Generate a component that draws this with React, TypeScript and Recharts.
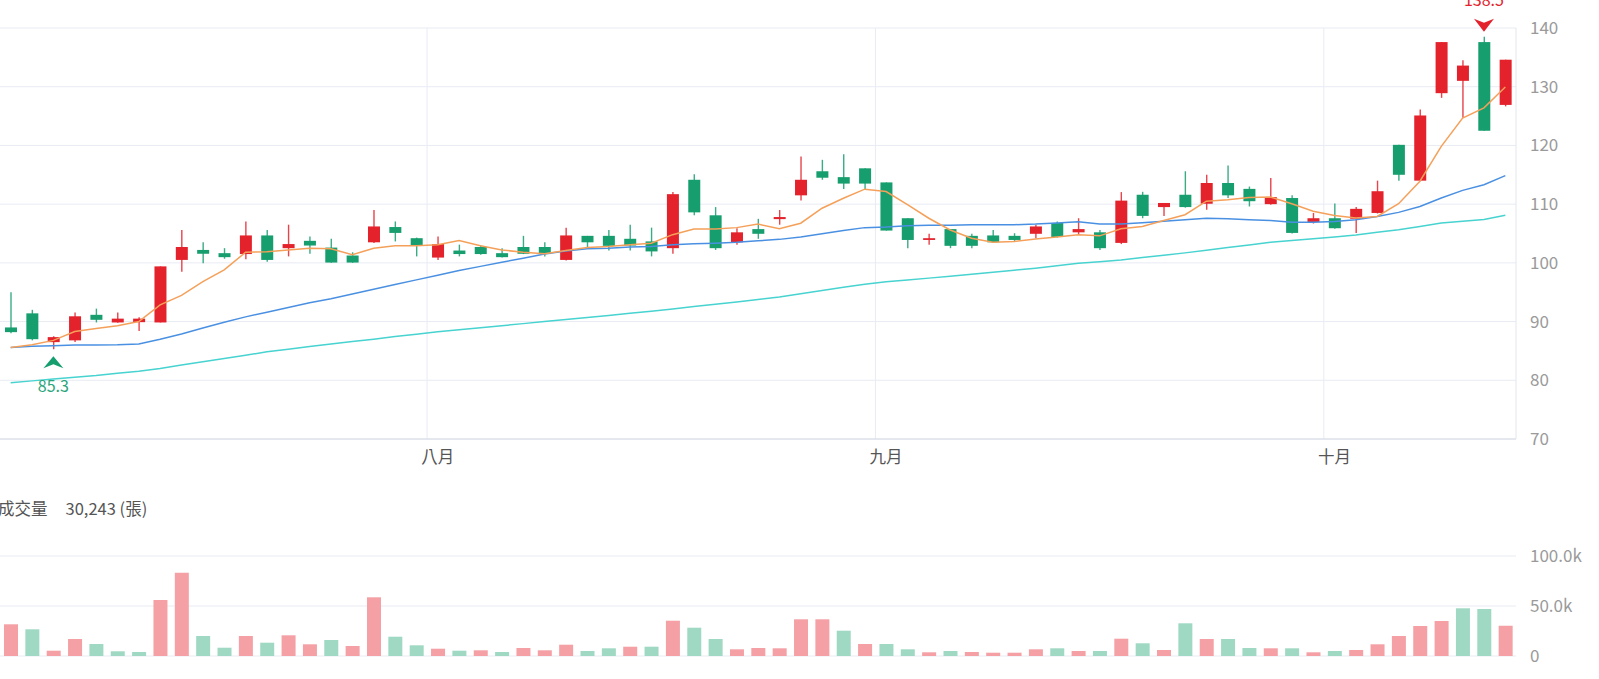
import { ComposedChart, Bar, Line, XAxis, YAxis, CartesianGrid, ReferenceLine, ReferenceDot, Cell } from 'recharts'

const dates = [
  '07/02', '07/03', '07/04', '07/05', '07/08', '07/09', '07/10', '07/11', '07/12', '07/15',
  '07/16', '07/17', '07/18', '07/19', '07/22', '07/23', '07/26', '07/29', '07/30', '07/31',
  '08/01', '08/02', '08/05', '08/06', '08/07', '08/08', '08/09', '08/12', '08/13', '08/14',
  '08/15', '08/16', '08/19', '08/20', '08/21', '08/22', '08/23', '08/26', '08/27', '08/28',
  '08/29', '09/02', '09/03', '09/04', '09/05', '09/06', '09/09', '09/10', '09/11', '09/12',
  '09/13', '09/16', '09/17', '09/18', '09/19', '09/20', '09/23', '09/24', '09/25', '09/26',
  '09/27', '09/30', '10/01', '10/02', '10/03', '10/04', '10/07', '10/08', '10/09', '10/11',
  '10/14',
]

const opens = [
  89.0, 91.4, 86.5, 86.8, 91.15, 89.85, 89.9, 89.85, 100.5, 102.2,
  101.65, 101.5, 104.67, 102.5, 103.75, 102.6, 101.25, 103.5, 106.1, 104.2,
  100.9, 102.1, 102.7, 101.65, 102.7, 102.7, 100.5, 104.6, 104.6, 104.1,
  103.65, 102.5, 114.15, 108.1, 103.5, 105.75, 107.45, 111.5, 115.6, 114.6,
  116.1, 113.7, 107.6, 103.9, 105.75, 104.6, 104.67, 104.6, 104.95, 106.8,
  105.2, 105.2, 103.4, 111.6, 109.5, 111.6, 110.07, 113.6, 112.6, 110.0,
  111.04, 106.95, 107.6, 107.5, 108.5, 120.1, 114.0, 128.9, 131.0, 137.6,
  126.9,
]
const highs = [
  95.0, 92.0, 87.5, 91.55, 92.2, 91.55, 90.75, 99.4, 105.6, 103.5,
  102.5, 107.05, 105.6, 106.5, 104.5, 104.1, 101.8, 109.0, 107.05, 104.3,
  104.5, 103.1, 103.0, 102.5, 104.6, 103.5, 106.0, 104.6, 105.6, 106.5,
  106.0, 112.05, 115.1, 109.5, 105.9, 107.5, 109.0, 118.1, 117.55, 118.5,
  116.1, 113.7, 107.6, 104.95, 105.75, 104.95, 105.6, 105.05, 106.5, 107.05,
  107.6, 105.6, 112.05, 112.1, 110.2, 115.6, 115.0, 116.6, 113.0, 114.45,
  111.5, 108.5, 110.1, 109.5, 114.0, 120.1, 126.1, 137.6, 134.5, 138.5,
  134.6,
]
const lows = [
  88.0, 86.8, 85.3, 86.5, 89.85, 89.8, 88.4, 89.85, 98.5, 99.95,
  100.7, 100.6, 100.2, 101.1, 101.55, 100.0, 100.0, 103.4, 103.65, 101.1,
  100.5, 101.1, 101.4, 100.9, 101.5, 101.1, 100.4, 102.5, 102.1, 102.1,
  101.1, 101.55, 108.1, 102.2, 103.1, 104.1, 106.5, 110.6, 114.15, 112.6,
  112.6, 105.5, 102.5, 103.1, 102.5, 102.5, 103.4, 103.65, 104.2, 104.3,
  104.8, 102.2, 103.2, 107.6, 108.0, 109.4, 109.05, 111.04, 109.6, 109.9,
  105.0, 106.7, 105.8, 105.1, 108.4, 114.0, 113.9, 128.1, 124.7, 122.5,
  126.65,
]
const closes = [
  88.2, 87.0, 87.35, 90.9, 90.3, 90.5, 90.5, 99.4, 102.7, 101.55,
  100.97, 104.67, 100.5, 103.2, 102.95, 100.05, 100.05, 106.2, 105.1, 102.95,
  103.2, 101.5, 101.5, 100.97, 101.55, 101.5, 104.67, 103.5, 102.9, 102.95,
  101.95, 111.7, 108.6, 102.5, 105.2, 104.95, 107.8, 114.15, 114.5, 113.5,
  113.5, 105.5, 103.9, 104.2, 102.9, 102.9, 103.5, 103.9, 106.2, 104.4,
  105.75, 102.5, 110.6, 108.0, 110.2, 109.5, 113.6, 111.5, 110.5, 111.2,
  105.1, 107.6, 105.9, 109.2, 112.2, 115.0, 125.1, 137.6, 133.6, 122.5,
  134.6,
]

const ma5 = [
  85.6, 86.05, 86.8, 88.3, 88.8, 89.3, 90.0, 92.85, 94.45, 96.8,
  98.8, 101.8, 101.9, 102.2, 102.5, 102.4, 101.4, 102.5, 102.9, 102.9,
  103.1, 103.8, 102.9, 102.2, 101.8, 101.55, 102.1, 102.6, 102.8, 103.1,
  103.35, 104.8, 105.75, 105.75, 106.0, 106.6, 105.8, 106.75, 109.3, 111.0,
  112.55, 112.15, 109.9, 107.6, 105.6, 104.2, 103.5, 103.65, 104.05, 104.4,
  104.8, 104.6, 105.8, 106.2, 107.2, 108.2, 110.5, 110.75, 111.15, 111.2,
  110.07, 108.8, 108.05, 107.65, 107.9, 110.07, 113.9, 119.85, 124.65, 126.4,
  129.95,
]
const ma20 = [
  85.6, 85.8, 85.9, 86.0, 86.0, 86.05, 86.2, 87.0, 87.9, 88.9,
  89.9, 90.8, 91.6, 92.4, 93.2, 93.9, 94.7, 95.5, 96.3, 97.1,
  97.9, 98.7, 99.4, 100.1, 100.8, 101.5, 102.0, 102.4, 102.5, 102.7,
  102.8, 103.1, 103.25, 103.35, 103.5, 103.75, 104.0, 104.4, 104.95, 105.5,
  106.0, 106.1, 106.3, 106.4, 106.4, 106.5, 106.5, 106.5, 106.6, 106.8,
  107.0, 106.6, 106.6, 106.85, 107.1, 107.35, 107.6, 107.5, 107.35, 107.2,
  106.9, 106.9, 107.05, 107.35, 107.9, 108.6, 109.6, 111.05, 112.35, 113.3,
  114.85,
]
const ma60 = [
  79.6, 79.9, 80.2, 80.5, 80.8, 81.2, 81.55, 82.0, 82.6, 83.15,
  83.7, 84.25, 84.85, 85.3, 85.75, 86.2, 86.6, 87.0, 87.45, 87.85,
  88.25, 88.6, 88.95, 89.3, 89.65, 90.0, 90.35, 90.7, 91.05, 91.4,
  91.75, 92.15, 92.55, 92.95, 93.35, 93.75, 94.2, 94.75, 95.3, 95.85,
  96.35, 96.8, 97.1, 97.4, 97.7, 98.05, 98.4, 98.75, 99.1, 99.5,
  99.95, 100.2, 100.5, 100.9, 101.3, 101.7, 102.15, 102.6, 103.05, 103.5,
  103.8, 104.1, 104.4, 104.75, 105.2, 105.65, 106.2, 106.8, 107.1, 107.4,
  108.1,
]

// 成交量 (張)
const volumes = [
  31700, 26700, 5300, 17000, 12000, 4700, 4000, 56000, 83300, 20000,
  8300, 20000, 13300, 20700, 11700, 16000, 10000, 58700, 19300, 10700,
  7300, 5300, 5700, 4000, 8000, 5700, 11300, 5000, 7700, 9300,
  9300, 35300, 28300, 17000, 6700, 8000, 7700, 36700, 36700, 25300,
  12000, 12000, 6700, 3700, 5000, 4000, 3300, 3300, 6700, 7700,
  5000, 5000, 17300, 12700, 6000, 32700, 17000, 17000, 8000, 7700,
  7700, 3700, 5000, 6000, 11700, 20000, 30000, 35000, 47700, 47000,
  30243,
]
// 1 = 漲 (red), 0 = 跌 (green), vs previous close
const volumeUp = [
  1, 0, 1, 1, 0, 0, 0, 1, 1, 0,
  0, 1, 0, 1, 1, 0, 1, 1, 0, 0,
  1, 0, 1, 0, 1, 1, 1, 0, 0, 1,
  0, 1, 0, 0, 1, 1, 1, 1, 1, 0,
  1, 0, 0, 1, 0, 1, 1, 1, 1, 0,
  1, 0, 1, 0, 1, 0, 1, 0, 0, 1,
  0, 1, 0, 1, 1, 1, 1, 1, 0, 0,
  1,
]

const priceTicks = [70, 80, 90, 100, 110, 120, 130, 140]
const volumeTicks = [0, 50000, 100000]
const MONTHS: Record<string, string> = { '07': '七月', '08': '八月', '09': '九月', '10': '十月' }

const RED = '#e3222c'
const GREEN = '#169e6e'
const RED_VOL = '#f4a0a5'
const GREEN_VOL = '#9fd9c3'
const GRID = '#e8ebf3'
const FONT = "'Noto Sans CJK TC', 'Noto Sans', sans-serif"

const rows = dates.map((date, i) => ({
  date,
  open: opens[i],
  high: highs[i],
  low: lows[i],
  close: closes[i],
  range: [lows[i], highs[i]],
  ma5: ma5[i],
  ma20: ma20[i],
  ma60: ma60[i],
  vol: volumes[i],
}))

const monthStarts = dates.filter((d, i) => i > 0 && d.slice(0, 2) !== dates[i - 1].slice(0, 2))

const lowIdx = lows.indexOf(Math.min(...lows))
const highIdx = highs.indexOf(Math.max(...highs))

function Candle(props: any) {
  const { x, y, width, height, payload } = props
  const { open, close, high, low } = payload
  const color = close >= open ? RED : GREEN
  const top = Math.min(y, y + height)
  const h = Math.abs(height)
  const ratio = high === low ? 0 : h / (high - low)
  const yOf = (v: number) => top + (high - v) * ratio
  const cx = x + width / 2
  const bodyTop = yOf(Math.max(open, close))
  const bodyH = Math.max(1.5, yOf(Math.min(open, close)) - bodyTop)
  return (
    <g>
      <line x1={cx} x2={cx} y1={top} y2={top + h} stroke={color} strokeWidth={1.4} strokeOpacity={0.85} />
      <rect x={cx - 6} y={bodyTop} width={12} height={bodyH} fill={color} />
    </g>
  )
}

function LowMark(props: any) {
  const { cx, cy } = props
  const tip = cy + 7
  return (
    <g>
      <path d={`M${cx},${tip} L${cx + 10},${tip + 12} L${cx},${tip + 8} L${cx - 10},${tip + 12} Z`} fill={GREEN} />
      <text x={cx} y={cy + 36} textAnchor="middle" dominantBaseline="central" fill="#2aa57b" fontSize={16} fontFamily={FONT}>
        {lows[lowIdx].toFixed(1)}
      </text>
    </g>
  )
}

function HighMark(props: any) {
  const { cx, cy } = props
  const tip = cy - 5
  return (
    <g>
      <path d={`M${cx},${tip} L${cx + 10},${tip - 13} L${cx},${tip - 9} L${cx - 10},${tip - 13} Z`} fill={RED} />
      <text x={cx} y={cy - 38} textAnchor="middle" dominantBaseline="central" fill={RED} fontSize={16} fontFamily={FONT}>
        {highs[highIdx].toFixed(1)}
      </text>
    </g>
  )
}

function formatVolume(v: number) {
  return v === 0 ? '0' : `${(v / 1000).toFixed(1)}k`
}

export default function App() {
  return (
    <div style={{ position: 'absolute', left: 0, top: 0, width: 1599, height: 679, fontFamily: FONT, background: '#fff' }}>
      <ComposedChart width={1599} height={480} data={rows} margin={{ top: 28, right: 0, bottom: 0, left: 0 }}>
        <CartesianGrid vertical={false} stroke={GRID} />
        {monthStarts.map((d) => (
          <ReferenceLine key={d} x={d} position="start" stroke={GRID} />
        ))}
        <XAxis
          dataKey="date"
          ticks={monthStarts}
          tickFormatter={(d: string) => MONTHS[d.slice(0, 2)]}
          height={41}
          tickLine={false}
          axisLine={{ stroke: '#d6dae4' }}
          tickMargin={6}
          tick={{ fill: '#555', fontSize: 16.5, fontFamily: FONT }}
        />
        <YAxis
          orientation="right"
          width={83}
          domain={[70, 140]}
          ticks={priceTicks}
          tickLine={false}
          axisLine={{ stroke: '#e3e6ee' }}
          tickMargin={8}
          tick={{ fill: '#9a9a9a', fontSize: 17, fontFamily: FONT }}
        />
        <Line dataKey="ma60" stroke="#47d3d0" strokeWidth={1.5} dot={false} isAnimationActive={false} />
        <Line dataKey="ma20" stroke="#4a90e2" strokeWidth={1.5} dot={false} isAnimationActive={false} />
        <Line dataKey="ma5" stroke="#f5a05a" strokeWidth={1.5} dot={false} isAnimationActive={false} />
        <Bar dataKey="range" barSize={12} shape={<Candle />} isAnimationActive={false} />
        <ReferenceDot x={dates[lowIdx]} y={lows[lowIdx]} shape={<LowMark />} />
        <ReferenceDot x={dates[highIdx]} y={highs[highIdx]} shape={<HighMark />} />
      </ComposedChart>

      <div style={{ position: 'absolute', left: -2, top: 497, fontSize: 16.5, lineHeight: '22px', color: '#555', whiteSpace: 'nowrap' }}>
        成交量<span style={{ marginLeft: 18 }}>{volumes[volumes.length - 1].toLocaleString('en-US')} (張)</span>
      </div>

      <div style={{ position: 'absolute', left: 0, top: 530 }}>
        <ComposedChart width={1599} height={149} data={rows} margin={{ top: 26, right: 0, bottom: 23, left: 0 }}>
          <CartesianGrid vertical={false} stroke={GRID} />
          <XAxis dataKey="date" hide />
          <YAxis
            orientation="right"
            width={83}
            domain={[0, 100000]}
            ticks={volumeTicks}
            tickFormatter={formatVolume}
            tickLine={false}
            axisLine={false}
            tickMargin={8}
            tick={{ fill: '#9a9a9a', fontSize: 17, fontFamily: FONT }}
          />
          <Bar dataKey="vol" barSize={14} isAnimationActive={false}>
            {rows.map((r, i) => (
              <Cell key={r.date} fill={volumeUp[i] ? RED_VOL : GREEN_VOL} />
            ))}
          </Bar>
        </ComposedChart>
      </div>
    </div>
  )
}
